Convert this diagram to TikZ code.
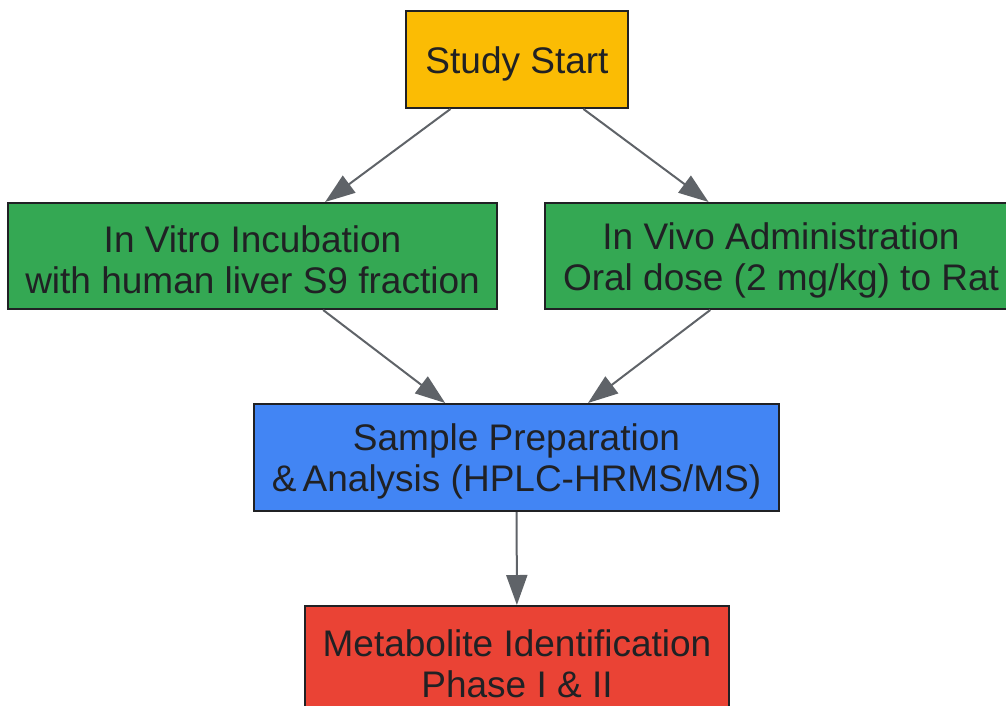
\documentclass[tikz,border=0pt]{standalone}
\usepackage{fontspec}
\setmainfont{Liberation Sans}
\usetikzlibrary{arrows.meta}
\definecolor{cyellow}{HTML}{FBBC04}
\definecolor{cgreen}{HTML}{34A853}
\definecolor{cblue}{HTML}{4285F4}
\definecolor{cred}{HTML}{EA4335}
\definecolor{cborder}{HTML}{202124}
\definecolor{ctext}{HTML}{202124}
\definecolor{carrow}{HTML}{5F6368}
\tikzset{
  box/.style={draw=cborder, line width=2pt, inner sep=0pt},
  lbl/.style={inner sep=0pt, align=center, text=ctext,
    font=\fontsize{37}{41}\selectfont, yshift=-4pt},
  conn/.style={draw=carrow, line width=2pt, -{Triangle[length=30pt,width=21pt]}}
}
\begin{document}
\begin{tikzpicture}[x=1pt,y=-1pt]
\useasboundingbox (0,0) rectangle (1006,706);
\clip (0,0) rectangle (1006,706);
\node[box, fill=cyellow, minimum width=222pt, minimum height=97pt] (start) at (517,59.5) {};
\node[lbl] (startt) at (start.center) {Study Start};
\node[box, fill=cgreen, minimum width=489pt, minimum height=106pt] (vitro) at (252.5,256) {};
\node[lbl] (vitrot) at (vitro.center) {In Vitro Incubation\\with human liver S9 fraction};
\node[box, fill=cgreen, minimum width=472pt, minimum height=106pt] (vivo) at (781,256) {};
\node[lbl] (vivot) at (vivo.center) {In Vivo Administration\\Oral dose (2 mg/kg) to Rat};
\node[box, fill=cblue, minimum width=525pt, minimum height=107pt] (prep) at (516.5,457.5) {};
\node[lbl] (prept) at (prep.center) {Sample Preparation\\\&\,Analysis (HPLC-HRMS/MS)};
\node[box, fill=cred, minimum width=424pt, minimum height=107pt] (meta) at (517,659.5) {};
\node[lbl] (metat) at (meta.center) {Metabolite Identification\\Phase I \& II};
\draw[conn] (start) -- (vitro);
\draw[conn] (start) -- (vivo);
\draw[conn] (vitro) -- (prep);
\draw[conn] (vivo) -- (prep);
\draw[conn] (prep) -- (meta);
\end{tikzpicture}
\end{document}
